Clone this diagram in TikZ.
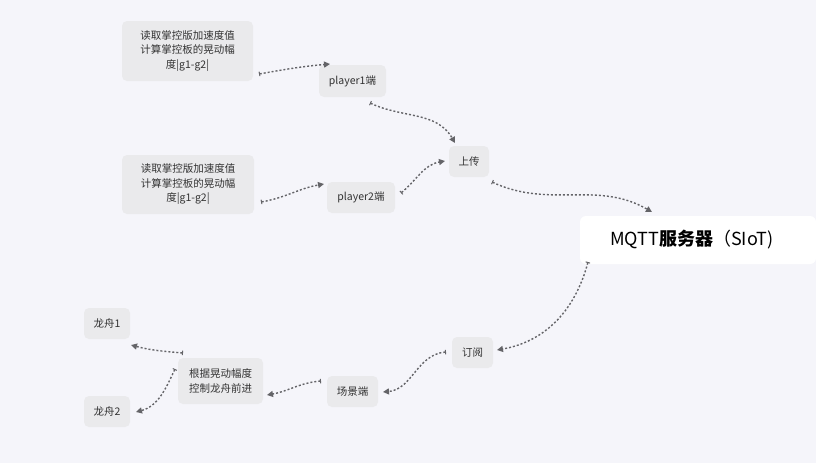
\documentclass[tikz,border=0pt]{standalone}
\usepackage{fontspec}
\setmainfont{Noto Sans CJK SC}
\usetikzlibrary{arrows.meta}
\definecolor{bg}{RGB}{245,245,250}
\definecolor{boxfill}{RGB}{234,234,236}
\definecolor{txt}{RGB}{50,50,50}
\definecolor{link}{RGB}{100,100,104}
\begin{document}
\begin{tikzpicture}[x=1pt,y=-1pt,
  box/.style={fill=boxfill,rounded corners=5pt,text=txt,align=center,inner sep=0pt,
    font=\fontsize{10.5}{14.5}\selectfont},
  mqbox/.style={fill=white,rounded corners=6pt,text=black,align=center,inner sep=0pt,
    font=\fontsize{18}{20}\selectfont},
  conn/.style={draw=link,line width=1.4pt,dash pattern=on 2pt off 2pt,
    {Bar[width=4.5pt,line width=1pt]}-{Triangle[length=6pt,width=6pt]}}]
\fill[bg] (0,0) rectangle (816,463);
\useasboundingbox (0,0) rectangle (816,463);
\node[box,minimum width=131,minimum height=60] (n1) at (187.5,51) {读取掌控版加速度值\\计算掌控板的晃动幅\\度|g1-g2|};
\node[box,minimum width=67,minimum height=32] (p1) at (352.5,81) {player1端};
\node[box,minimum width=40,minimum height=31] (up) at (469,161.5) {上传};
\node[box,minimum width=132,minimum height=59] (n2) at (188,184.5) {读取掌控版加速度值\\计算掌控板的晃动幅\\度|g1-g2|};
\node[box,minimum width=68,minimum height=31] (p2) at (361,197.5) {player2端};
\node[mqbox,minimum width=236,minimum height=48,text width=230] (mq) at (698,240) {\hspace*{-12pt}MQTT\textbf{服务器}（SIoT)};
\node[box,minimum width=41,minimum height=31] (sub) at (472.5,352.5) {订阅};
\node[box,minimum width=51,minimum height=31] (scn) at (352.5,391.5) {场景端};
\node[box,minimum width=85,minimum height=46] (ctl) at (220.5,381) {根据晃动幅度\\控制龙舟前进};
\node[box,minimum width=46,minimum height=31] (b1) at (107,323.5) {龙舟1};
\node[box,minimum width=46,minimum height=31] (b2) at (107,411.5) {龙舟2};
\draw[conn] ([shift={(71.5,23)}]n1.center) to[out=10,in=185] ([shift={(-22.5,-17)}]p1.center);
\draw[conn] ([shift={(17.5,22)}]p1.center) to[out=-25,in=120] ([shift={(-14,-18.5)}]up.center);
\draw[conn] ([shift={(40,-4.5)}]p2.center) to[out=40,in=190] ([shift={(-24,-0.5)}]up.center);
\draw[conn] ([shift={(73,17.5)}]n2.center) to[out=10,in=190] ([shift={(-37,-13.5)}]p2.center);
\draw[conn] ([shift={(23,20.5)}]up.center) to[out=-25,in=150] ([shift={(-46,-28)}]mq.center);
\draw[conn] ([shift={(-110,22)}]mq.center) to[out=-105,in=10] ([shift={(24.5,-2.5)}]sub.center);
\draw[conn] ([shift={(-26.5,-0.5)}]sub.center) to[out=185,in=5] ([shift={(30.5,0.5)}]scn.center);
\draw[conn] ([shift={(-31.5,-10.5)}]scn.center) to[out=185,in=10] ([shift={(46.5,14)}]ctl.center);
\draw[conn] ([shift={(-37.5,-28)}]ctl.center) to[out=175,in=-15] ([shift={(24,21.5)}]b1.center);
\draw[conn] ([shift={(-45.5,-12)}]ctl.center) to[out=-115,in=15] ([shift={(29,0.5)}]b2.center);
\end{tikzpicture}
\end{document}
